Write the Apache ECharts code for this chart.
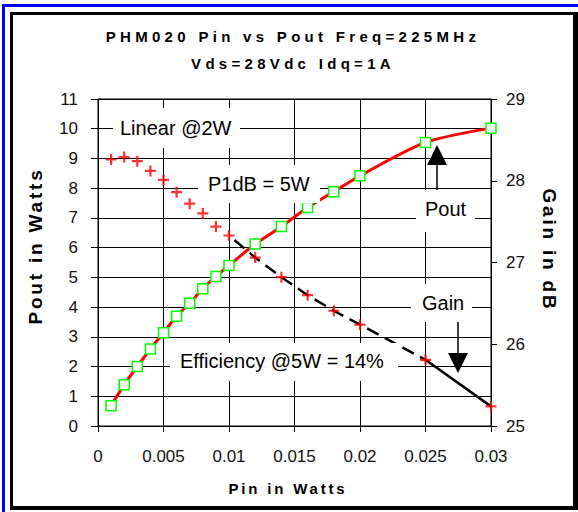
<!DOCTYPE html>
<html>
<head>
<meta charset="utf-8">
<script src="https://cdn.jsdelivr.net/npm/echarts@6/dist/echarts.min.js"></script>
<style>
  html, body { margin: 0; padding: 0; background: #fff; }
  #chart { width: 578px; height: 512px; }
  /* Excel-style spaced-out bold captions (svg renderer) */
  #chart text[style*="Arial"] { letter-spacing: 4.3px; }
  #chart text[style*="Helvetica"] { letter-spacing: 2.8px; }
</style>
</head>
<body>
<div id="chart"></div>
<script>
// Pin in watts (x)
var pinW = [0.001, 0.002, 0.003, 0.004, 0.005, 0.006, 0.007, 0.008, 0.009, 0.010,
            0.012, 0.014, 0.016, 0.018, 0.020, 0.025, 0.030];
// Pout in watts (left axis)
var poutW = [0.68, 1.39, 2.0, 2.59, 3.14, 3.69, 4.13, 4.62, 5.03, 5.40,
             6.12, 6.71, 7.35, 7.88, 8.42, 9.54, 10.02];
// Gain in dB (right axis)
var gainDb = [28.26, 28.29, 28.24, 28.12, 28.01, 27.86, 27.72, 27.60, 27.44, 27.33,
              27.06, 26.82, 26.60, 26.41, 26.24, 25.81, 25.24];
var xTickLabels = ['0', '0.005', '0.01', '0.015', '0.02', '0.025', '0.03'];
var titleLines = ['PHM020 Pin vs Pout Freq=225MHz', 'Vds=28Vdc Idq=1A'];

function pairs(xs, ys, from, to) {
  return xs.slice(from, to).map(function (x, i) { return [x, ys[from + i]]; });
}

var chart = echarts.init(document.getElementById('chart'), null, { renderer: 'svg' });

var plusSymbol = 'path://M4,0H6V4H10V6H6V10H4V6H0V4H4Z';
var capFont = 'bold 15px "Liberation Sans", Arial';        // title
var nameFont = 'bold 19px "Liberation Sans", Helvetica';   // axis names
var noteFont = '20px "Liberation Sans"';

function txt(text, x, y, font, align, rot) {
  return {
    type: 'text', x: x, y: y, rotation: rot || 0, z: 101,
    style: { text: text, font: font, fill: '#000', align: align || 'center', verticalAlign: 'middle',
             textAlign: align || 'center', textVerticalAlign: 'middle' }
  };
}
function box(x, y, w, h) {
  return { type: 'rect', z: 100, shape: { x: x, y: y, width: w, height: h }, style: { fill: '#fff' } };
}

var option = {
  backgroundColor: '#fff',
  animation: false,
  grid: {
    left: 98, right: 87, top: 99, bottom: 86,
    show: true, borderColor: '#000', borderWidth: 1,
    outerBoundsMode: 'none'
  },
  xAxis: {
    type: 'value', min: 0, max: 0.03, interval: 0.005,
    axisLine: { show: true, onZero: false, lineStyle: { color: '#000', width: 1 } },
    axisTick: { show: true, length: 6, lineStyle: { color: '#000' } },
    splitLine: { show: true, lineStyle: { color: '#000', width: 1 } },
    axisLabel: {
      margin: 22, color: '#111', fontSize: 17, fontFamily: 'Liberation Sans',
      formatter: function (v) { return xTickLabels[Math.round(v / 0.005)]; }
    }
  },
  yAxis: [
    {
      type: 'value', position: 'left', min: 0, max: 11, interval: 1,
      axisLine: { show: true, lineStyle: { color: '#000', width: 1 } },
      axisTick: { show: true, length: 7, lineStyle: { color: '#000' } },
      splitLine: { show: true, lineStyle: { color: '#000', width: 1 } },
      axisLabel: { margin: 20, color: '#111', fontSize: 17, fontFamily: 'Liberation Sans' }
    },
    {
      type: 'value', position: 'right', min: 25, max: 29, interval: 1,
      axisLine: { show: true, lineStyle: { color: '#000', width: 1 } },
      axisTick: { show: true, length: 6, lineStyle: { color: '#000' } },
      splitLine: { show: false },
      axisLabel: { margin: 15, color: '#111', fontSize: 17, fontFamily: 'Liberation Sans' }
    }
  ],
  series: [
    {
      name: 'Gain line', type: 'line', yAxisIndex: 1, z: 2, silent: true,
      data: pairs(pinW, gainDb, 9, 16), symbol: 'none',
      lineStyle: { color: '#000', width: 2.5, type: [13, 7], dashOffset: 13 }
    },
    {
      name: 'Gain line end', type: 'line', yAxisIndex: 1, z: 2, silent: true,
      data: pairs(pinW, gainDb, 15, 17), symbol: 'none',
      lineStyle: { color: '#000', width: 2.5 }
    },
    {
      name: 'Pout', type: 'line', yAxisIndex: 0, z: 3,
      data: pairs(pinW, poutW, 0, pinW.length), smooth: 0.25,
      showAllSymbol: true, symbol: 'rect', symbolSize: 10,
      lineStyle: { color: '#ff0000', width: 3 },
      itemStyle: { color: '#fff', borderColor: '#00ff00', borderWidth: 1.5 }
    },
    {
      name: 'Gain', type: 'scatter', yAxisIndex: 1, z: 4,
      data: pairs(pinW, gainDb, 0, pinW.length),
      symbol: plusSymbol, symbolSize: 11,
      itemStyle: { color: '#ff0000' }
    }
  ],
  graphic: [
    // outer blue border and black chart frame
    { type: 'rect', z: -20, shape: { x: 3.5, y: 5.5, width: 700, height: 700 },
      style: { fill: 'none', stroke: '#0000ff', lineWidth: 3 } },
    { type: 'rect', z: -19, shape: { x: 10, y: 12, width: 568, height: 498 }, style: { fill: '#000' } },
    { type: 'rect', z: -18, shape: { x: 13, y: 15, width: 560, height: 491 }, style: { fill: '#fff' } },
    txt(titleLines[0], 293, 36, capFont),
    txt(titleLines[1], 293, 63, capFont),
    txt('Pout in Watts', 35, 246, nameFont, 'center', Math.PI / 2),
    txt('Gain in dB', 549, 250, nameFont, 'center', -Math.PI / 2),
    txt('Pin in Watts', 288, 488, 'bold 15px "Liberation Sans", Helvetica'),
    // notes
    box(113, 108, 127, 40), txt('Linear @2W', 120, 128, noteFont, 'left'),
    box(198, 165, 122, 38), txt('P1dB = 5W', 208, 184, noteFont, 'left'),
    box(416, 190, 59, 42), txt('Pout', 425, 209, noteFont, 'left'),
    box(411, 284, 61, 38), txt('Gain', 422, 303, noteFont, 'left'),
    box(170, 343, 228, 38), txt('Efficiency @5W = 14%', 180, 361, noteFont, 'left'),
    // arrows
    { type: 'line', z: 102, shape: { x1: 437, y1: 164, x2: 437, y2: 190 }, style: { stroke: '#000', lineWidth: 1.5 } },
    { type: 'polygon', z: 102, shape: { points: [[437, 145], [427, 165], [447, 165]] }, style: { fill: '#000' } },
    { type: 'line', z: 102, shape: { x1: 458, y1: 322, x2: 458, y2: 354 }, style: { stroke: '#000', lineWidth: 1.5 } },
    { type: 'polygon', z: 102, shape: { points: [[448, 353], [468, 353], [458, 373]] }, style: { fill: '#000' } }
  ]
};

chart.setOption(option);
</script>
</body>
</html>
